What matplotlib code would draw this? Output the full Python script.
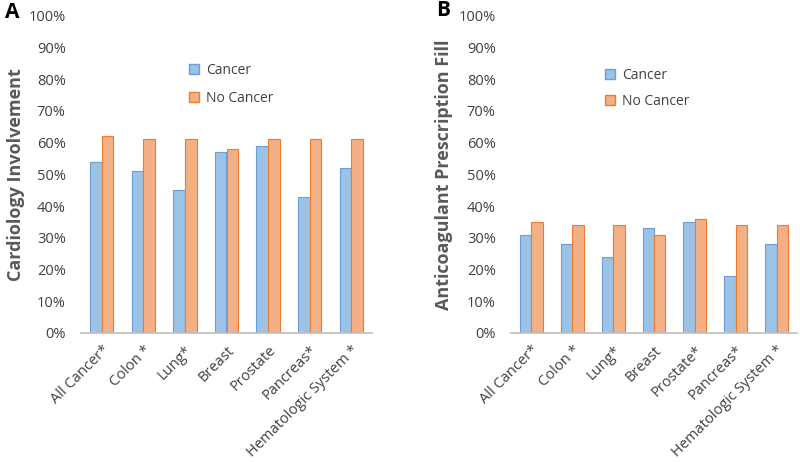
import matplotlib
matplotlib.use("Agg")
import matplotlib.pyplot as plt
import numpy as np
from matplotlib.ticker import PercentFormatter
from matplotlib.patches import Patch

plt.rcParams['font.family'] = ['Open Sans', 'DejaVu Sans']

categories_a = ["All Cancer*", "Colon *", "Lung*", "Breast", "Prostate", "Pancreas*", "Hematologic System *"]
cancer_a = [54, 51, 45, 57, 59, 43, 52]
nocancer_a = [62, 61, 61, 58, 61, 61, 61]

categories_b = ["All Cancer*", "Colon *", "Lung*", "Breast", "Prostate*", "Pancreas*", "Hematologic System *"]
cancer_b = [31, 28, 24, 33, 35, 18, 28]
nocancer_b = [35, 34, 34, 31, 36, 34, 34]

series_names = ["Cancer", "No Cancer"]
ylabel_a = "Cardiology Involvement"
ylabel_b = "Anticoagulant Prescription Fill"

BLUE_FILL, BLUE_EDGE = "#9cc2e6", "#6a9fd8"
ORANGE_FILL, ORANGE_EDGE = "#f3b084", "#ec7c30"
TEXT = "#404040"

fig = plt.figure(figsize=(8, 4.62), dpi=100)
axA = fig.add_axes([81/800, 1-333/462, (372-81)/800, (333-15.7)/462])
axB = fig.add_axes([511/800, 1-333/462, (797-511)/800, (333-15.7)/462])

def draw(ax, cats, c, n, ylabel, lab_x):
    x = np.arange(len(cats))
    w = 0.28
    ax.bar(x - w/2, c, w, color=BLUE_FILL, edgecolor=BLUE_EDGE, linewidth=0.8)
    ax.bar(x + w/2, n, w, color=ORANGE_FILL, edgecolor=ORANGE_EDGE, linewidth=0.8)
    ax.set_xlim(-0.5, len(cats) - 0.5)
    ax.set_ylim(0, 100)
    ax.set_yticks(np.arange(0, 101, 10))
    ax.yaxis.set_major_formatter(PercentFormatter(decimals=0))
    ax.set_xticks(x)
    ax.set_xticklabels(cats, rotation=45, ha='right', rotation_mode='anchor')
    for s in ['top', 'right', 'left']:
        ax.spines[s].set_visible(False)
    ax.spines['bottom'].set_color('#bfbfbf')
    ax.spines['bottom'].set_linewidth(1.2)
    ax.tick_params(axis='y', length=0, pad=11, labelsize=10.5, labelcolor=TEXT)
    ax.tick_params(axis='x', length=0, pad=7, labelsize=10.5, labelcolor=TEXT)
    ax.set_ylabel(ylabel, fontsize=13, fontweight='bold', color="#595959", va='center')
    ax.yaxis.set_label_coords(lab_x, 0.5)

draw(axA, categories_a, cancer_a, nocancer_a, ylabel_a, -65/291)
draw(axB, categories_b, cancer_b, nocancer_b, ylabel_b, -67/286)

handles = [Patch(facecolor=BLUE_FILL, edgecolor=BLUE_EDGE), Patch(facecolor=ORANGE_FILL, edgecolor=ORANGE_EDGE)]
for (lx, ly, sp) in [(189/800, 1-63/462, 0.9), (605/800, 1-68/462, 0.77)]:
    leg = fig.legend(handles, series_names, loc='upper left', bbox_to_anchor=(lx, ly),
                     frameon=False, fontsize=10, handlelength=0.7, handleheight=0.7,
                     handletextpad=0.5, labelspacing=sp, borderpad=0, borderaxespad=0)
    for t in leg.get_texts():
        t.set_color(TEXT)

fig.text(5/800, 1-12.5/462, "A", fontsize=15, fontweight='bold', color='black', va='center', ha='left')
fig.text(436/800, 1-11/462, "B", fontsize=15, fontweight='bold', color='black', va='center', ha='left')

fig.savefig("out.png", dpi=100)
